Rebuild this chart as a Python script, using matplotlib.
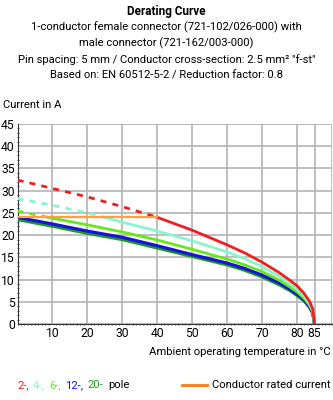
import matplotlib
matplotlib.use("Agg")
import matplotlib.pyplot as plt
import numpy as np
from matplotlib.ticker import MultipleLocator

plt.rcParams['font.family'] = ['Roboto', 'DejaVu Sans']

# ---- data ----
temps = [0, 10, 20, 30, 40, 50, 60, 65, 70, 75, 78, 80, 82, 83.5, 84.5, 85]
pole2 = [32.4, 30.5, 28.6, 26.4, 24.0, 21.1, 17.8, 16.0, 13.9, 11.5, 9.8, 8.6, 6.9, 5.2, 3.4, 0]
pole4 = [28.2, 26.7, 25.0, 22.9, 20.9, 18.7, 16.2, 14.7, 12.9, 10.7, 9.0, 7.8, 6.3, 4.6, 3.0, 0]
pole6 = [25.4, 23.8, 22.3, 20.7, 18.9, 16.8, 14.6, 13.3, 11.8, 9.8, 8.3, 7.2, 5.8, 4.3, 2.8, 0]
pole12 = [24.0, 22.5, 20.9, 19.5, 17.6, 15.6, 13.7, 12.5, 11.0, 9.2, 7.8, 6.7, 5.5, 4.0, 2.6, 0]
pole20 = [23.5, 22.0, 20.4, 19.0, 17.1, 15.2, 13.3, 12.1, 10.6, 8.8, 7.5, 6.4, 5.2, 3.8, 2.4, 0]
rated_current = 24.0
rated_range = [0, 40]

series_labels = ["2-,", "4-,", "6-,", "12-,", "20-"]
series_colors = ["#f01e1e", "#88f5d0", "#66e81a", "#1414d8", "#1e9a1e"]
orange = "#ffa040"
orange_legend = "#ff7a10"

xticks = [10, 20, 30, 40, 50, 60, 70, 80, 85]
yticks = [0, 5, 10, 15, 20, 25, 30, 35, 40, 45]

title_lines = [
    "1-conductor female connector (721-102/026-000) with",
    "male connector (721-162/003-000)",
    "Pin spacing: 5 mm / Conductor cross-section: 2.5 mm\u00b2 \"f-st\"",
    "Based on: EN 60512-5-2 / Reduction factor: 0.8",
]

fig = plt.figure(figsize=(3.33, 4.0), dpi=100)
renderer = fig.canvas.get_renderer()


def fitted_size(txt, target_px, base=9.0, **kw):
    tt = fig.text(0, 0, txt, fontsize=base, **kw)
    w = tt.get_window_extent(renderer).width
    tt.remove()
    return base * target_px / w


body = fitted_size(title_lines[2], 303)
tick_fs = min(body + 0.6, 9.5)

ax = fig.add_axes([17.5 / 333, 1 - 324 / 400, (332 - 17.5) / 333, 200 / 400])
ax.set_xlim(0, 90)
ax.set_ylim(0, 45)

ax.set_xticks(xticks)
ax.set_yticks(yticks)
ax.xaxis.set_minor_locator(MultipleLocator(1))
ax.yaxis.set_minor_locator(MultipleLocator(1))
ax.grid(True, which='major', color='#b4b4b4', linewidth=1.2)
ax.tick_params(which='major', length=0, labelsize=tick_fs, pad=2)
ax.tick_params(which='minor', length=2, width=0.6, color='#333333', direction='inout')
ax.set_axisbelow(True)
for s in ['top', 'right']:
    ax.spines[s].set_visible(False)
for s in ['left', 'bottom']:
    ax.spines[s].set_color('#333333')
    ax.spines[s].set_linewidth(0.8)
ax.axvline(90, color='#b4b4b4', linewidth=1.2, zorder=0)
ax.axhline(45, color='#b4b4b4', linewidth=1.2, zorder=0)

t = np.array(temps, dtype=float)
all_series = [pole20, pole12, pole6, pole4, pole2]
all_colors = list(reversed(series_colors))
lw = 2.0
for vals, col in zip(all_series, all_colors):
    v = np.array(vals, dtype=float)
    if v[0] > rated_current:
        idx = np.where(v <= rated_current)[0][0]
        t0, t1 = t[idx - 1], t[idx]
        v0, v1 = v[idx - 1], v[idx]
        tc = t0 + (v0 - rated_current) / (v0 - v1) * (t1 - t0)
        td = np.concatenate([t[:idx], [tc]])
        vd = np.concatenate([v[:idx], [rated_current]])
        ts = np.concatenate([[tc], t[idx:]])
        vs = np.concatenate([[rated_current], v[idx:]])
        ax.plot(td, vd, color=col, lw=lw, linestyle=(0, (2.2, 2.2)), solid_capstyle='butt', zorder=3)
        ax.plot(ts, vs, color=col, lw=lw, zorder=3)
    else:
        ax.plot(t, v, color=col, lw=lw + 0.3, zorder=3)

ax.plot(rated_range, [rated_current, rated_current], color=orange, lw=1.6, zorder=4)

# ---- titles ----
fig.text(0.5, 1 - 11 / 400, "Derating Curve", ha='center', va='center', fontsize=body + 0.3, fontweight='bold')
for i, line in enumerate(title_lines):
    fig.text(0.5, 1 - (27 + 16.3 * i) / 400, line, ha='center', va='center', fontsize=body)

fig.text(3 / 333, 1 - 105 / 400, "Current in A", ha='left', va='center', fontsize=body)
fig.text(331 / 333, 1 - 352 / 400, "Ambient operating temperature in \u00b0C", ha='right', va='center', fontsize=body)

# ---- legend ----
x = 17 / 333
y = 1 - 385 / 400
parts = list(zip(series_labels, series_colors)) + [("pole", "black")]
for txt, c in parts:
    tt = fig.text(x, y, txt, ha='left', va='center', fontsize=body, color=c)
    bb = tt.get_window_extent(renderer)
    x += (bb.width + 4.5) / fig.bbox.width

fig.add_artist(plt.Line2D([182 / 333, 207 / 333], [y, y], color=orange_legend, lw=2.0))
fig.text(331 / 333, y, "Conductor rated current", ha='right', va='center', fontsize=body)

fig.savefig("out.png", dpi=100)
